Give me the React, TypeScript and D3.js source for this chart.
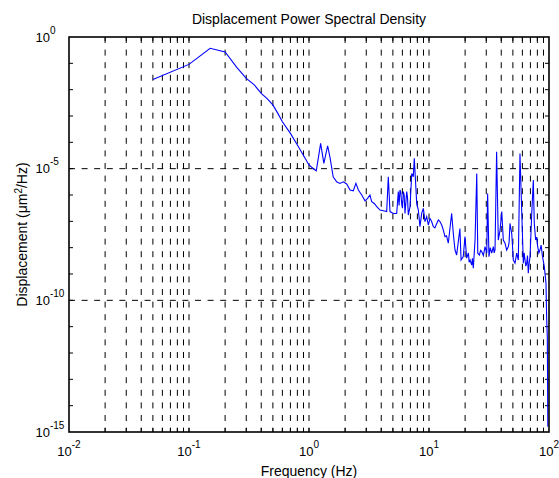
import React from "react";
import * as d3 from "d3";

const freq = [
  0.05, 0.1, 0.15, 0.2, 0.25, 0.3, 0.35, 0.4, 0.45, 0.5, 0.55, 0.6, 0.7, 0.8, 0.9, 1.0,
  1.1, 1.15, 1.25, 1.33, 1.43, 1.5, 1.59, 1.7, 1.81, 1.93, 2.06, 2.2, 2.34, 2.46, 2.58,
  2.75, 2.93, 3.08, 3.22, 3.33, 3.5, 3.67, 3.91, 4.16, 4.44, 4.58, 4.73, 5.04, 5.38,
  5.55, 5.63, 5.73, 5.82, 5.92, 6.01, 6.11, 6.21, 6.31, 6.41, 6.52, 6.62, 6.72, 6.95,
  7.18, 7.4, 7.54, 7.74, 7.9, 8.15, 8.41, 8.69, 8.97, 9.26, 9.57, 9.87, 10.19, 10.5,
  10.87, 11.2, 11.6, 11.96, 12.3, 12.76, 13.1, 13.59, 14.0, 14.48, 15.45, 15.94, 16.47,
  17.0, 18.1, 18.5, 19.3, 19.95, 20.6, 21.3, 21.6, 22.0, 22.7, 23.0, 23.4, 24.2, 25.0,
  25.5, 26.3, 26.9, 27.5, 28.4, 29.3, 30.3, 30.8, 31.6, 32.4, 33.3, 34.4, 34.9, 35.5,
  36.6, 37.8, 39.1, 40.4, 41.6, 43.0, 44.4, 45.8, 46.5, 47.3, 48.9, 49.6, 50.4, 52.1,
  53.8, 55.5, 57.3, 59.2, 61.1, 62.1, 63.1, 64.1, 65.2, 66.2, 67.2, 68.3, 69.5, 71.8,
  74.0, 75.4, 77.4, 79.0, 80.5, 82.3, 84.1, 86.0, 87.9, 89.6, 91.4, 94.4, 95.7, 96.8,
  97.8,
];

// log10 of PSD (µm²/Hz)
const logPsd = [
  -1.61, -1.04, -0.43, -0.57, -1.15, -1.57, -1.82, -2.14, -2.35, -2.58, -2.9, -3.22,
  -3.66, -4.1, -4.5, -4.86, -5.02, -5.08, -4.04, -4.8, -4.13, -4.6, -5.31, -5.5, -5.56,
  -5.5, -5.58, -5.81, -5.84, -5.56, -5.81, -6.0, -6.22, -6.13, -6.0, -6.25, -6.32,
  -6.44, -6.57, -6.6, -6.63, -5.31, -6.63, -6.7, -6.7,
  -5.87, -6.4, -5.81, -5.9, -6.32, -6.5, -5.87, -6.0, -6.7, -6.3, -5.87, -6.1, -6.76, -6.44,
  -5.18, -5.31, -4.61, -5.56, -6.32, -6.57, -7.2, -6.7, -6.51, -7.01, -6.82, -7.14, -6.89, -7.0,
  -7.2, -7.25, -7.08, -6.95, -7.0, -7.14, -7.3, -7.58, -7.55, -7.83, -6.7, -7.46, -8.09,
  -8.28, -7.27, -8.47, -8.34, -7.58, -8.4, -8.2, -8.55, -8.47, -8.66, -8.4, -8.78, -7.71, -5.18,
  -8.21, -8.28, -8.1, -8.15, -8.3, -7.96, -8.21, -5.94, -8.34, -8.0, -8.21, -7.96, -8.2, -8.09,
  -4.36, -7.71, -7.33, -6.63, -7.71, -7.83, -8.09, -7.96, -7.8, -7.08, -7.46, -7.9, -8.47, -8.59,
  -8.21, -8.47, -4.42, -6.57, -8.59, -8.2, -8.47, -8.7, -8.59, -8.3, -8.97, -8.6, -8.34, -6.7,
  -5.43, -7.08, -7.71, -7.6, -7.96, -8.2, -8.09, -7.9, -8.28, -8.5, -8.72, -9.35, -10.75, -11.38,
  -14.8,
];

const xTickExps = [-2, -1, 0, 1, 2];
const yTickExps = [0, -5, -10, -15];

const W = 559;
const H = 478;
const L = 69, R = 549, T = 37, B = 432;
const FONT = "'Liberation Sans', Arial, Helvetica, sans-serif";

export default function App() {
  const x = d3.scaleLog().domain([1e-2, 1e2]).range([L, R]);
  const y = d3.scaleLog().domain([1e-15, 1]).range([B, T]);

  const n = Math.min(freq.length, logPsd.length);
  const data = freq.slice(0, n).map((f, i) => ({ f, p: Math.pow(10, logPsd[i]) }));
  const line = d3
    .line<{ f: number; p: number }>()
    .x((d) => x(d.f))
    .y((d) => y(d.p));

  const xMinor: number[] = [];
  for (let e = -2; e < 2; e++) {
    for (let m = 1; m <= 9; m++) {
      const v = m * Math.pow(10, e);
      if (v > 1e-2) xMinor.push(v);
    }
  }
  const yDecades: number[] = [];
  for (let e = -14; e <= -1; e++) yDecades.push(Math.pow(10, e));

  const yGrid = [1e-5, 1e-10];

  return (
    <svg
      width={W}
      height={H}
      style={{ position: "absolute", left: 0, top: 0, background: "#fff" }}
      fontFamily={FONT}
    >
      <rect x={0} y={0} width={W} height={H} fill="#fff" />
      <defs>
        <clipPath id="plot">
          <rect x={L} y={T} width={R - L} height={B - T} />
        </clipPath>
      </defs>
      {xMinor.map((v, i) => (
        <line
          key={"vg" + i}
          x1={x(v)}
          x2={x(v)}
          y1={T}
          y2={B}
          stroke="#000"
          strokeWidth={1}
          strokeDasharray="6,6.6"
        />
      ))}
      {yGrid.map((v, i) => (
        <line
          key={"hg" + i}
          x1={L}
          x2={R}
          y1={y(v)}
          y2={y(v)}
          stroke="#000"
          strokeWidth={1}
          strokeDasharray="6,6.6"
        />
      ))}
      {yDecades.map((v, i) => (
        <g key={"yt" + i}>
          <line x1={L} x2={L + 4} y1={y(v)} y2={y(v)} stroke="#000" />
          <line x1={R} x2={R - 4} y1={y(v)} y2={y(v)} stroke="#000" />
        </g>
      ))}
      {xMinor.map((v, i) => (
        <g key={"xt" + i}>
          <line x1={x(v)} x2={x(v)} y1={B} y2={B - 4} stroke="#000" />
          <line x1={x(v)} x2={x(v)} y1={T} y2={T + 4} stroke="#000" />
        </g>
      ))}
      <path
        d={line(data) || ""}
        fill="none"
        stroke="#0000ff"
        strokeWidth={1.1}
        clipPath="url(#plot)"
      />
      <rect
        x={L}
        y={T}
        width={R - L}
        height={B - T}
        fill="none"
        stroke="#000"
        strokeWidth={1.6}
      />
      {xTickExps.map((e) => (
        <text
          key={"xl" + e}
          x={x(Math.pow(10, e))}
          y={B + 24}
          textAnchor="middle"
          fontSize={13}
          fill="#000"
        >
          <tspan>10</tspan>
          <tspan dy={-8} fontSize={10}>
            {e}
          </tspan>
        </text>
      ))}
      {yTickExps.map((e) => (
        <text
          key={"yl" + e}
          x={35.5}
          y={y(Math.pow(10, e)) + 4.7}
          textAnchor="start"
          fontSize={13}
          fill="#000"
        >
          <tspan>10</tspan>
          <tspan dy={-8} fontSize={10}>
            {e}
          </tspan>
        </text>
      ))}
      <text x={(L + R) / 2} y={24} textAnchor="middle" fontSize={14} fill="#000">
        Displacement Power Spectral Density
      </text>
      <text x={(L + R) / 2} y={476} textAnchor="middle" fontSize={14} fill="#000">
        Frequency (Hz)
      </text>
      <text
        transform={`translate(27, ${(T + B) / 2}) rotate(-90)`}
        textAnchor="middle"
        fontSize={14}
        fill="#000"
      >
        <tspan>Displacement (μm</tspan>
        <tspan dy={-5} fontSize={10}>
          2
        </tspan>
        <tspan dy={5}>/Hz)</tspan>
      </text>
    </svg>
  );
}
